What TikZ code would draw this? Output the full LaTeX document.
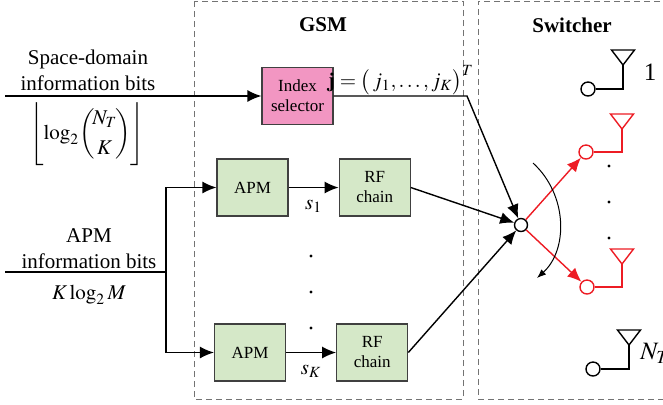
\documentclass[tikz,border=0pt]{standalone}
\usepackage{amsmath}
\usepackage{mathptmx}
\usepackage{fontspec}
\setmainfont{Liberation Serif}
\usepackage{tikz}
\usetikzlibrary{positioning}
\usetikzlibrary{arrows.meta}
\definecolor{idxpink}{RGB}{242,150,194}
\definecolor{apmgreen}{RGB}{213,232,200}
\definecolor{antred}{RGB}{237,28,36}

\begin{document}
\begin{tikzpicture}[x=0.5pt,y=-0.5pt]

\tikzset{blk/.style={
		draw=black!75, line width=0.6pt,
		minimum width=35.5pt, minimum height=28.5pt,
		inner sep=0pt, align=center,
		font=\fontsize{8.5}{10}\selectfont
	},
	grpbox/.style={draw=black!55, line width=0.5pt, dash pattern=on 3pt off 2pt},
	grptitle/.style={font=\fontsize{10.5}{12}\selectfont\bfseries},
	lbl/.style={align=center, inner sep=0pt, font=\fontsize{10.5}{13}\selectfont},
	wire/.style={line width=0.7pt},
	arr/.style={wire, -{Latex[length=7pt,width=6pt]}},
	swc/.style={circle, draw, line width=0.7pt, minimum size=6.5pt, inner sep=0pt, fill=white},
	antlbl/.style={inner sep=0pt, font=\fontsize{12.5}{14}\selectfont}
}
\useasboundingbox (0,0) rectangle (663,404);

%groups
\draw[grpbox] (194,1) rectangle (463,399);
\draw[grpbox] (690,1) -- (478,1) -- (478,399) -- (690,399);
\node[grptitle] (gsmttl) at (323,25) {GSM};
\node[grptitle] (swttl) at (572,25) {Switcher};

%blocks
\node[blk, fill=idxpink] (idx) at (297.5,96) {Index\\selector};
\node[blk, fill=apmgreen] (apmA) at (252.5,187.5) {APM};
\node[blk, fill=apmgreen, right=25pt of apmA] (rfA) {RF\\chain};
\node[blk, fill=apmgreen] (apmB) at (250,352.5) {APM};
\node[blk, fill=apmgreen, right=25pt of apmB] (rfB) {RF\\chain};
\node[swc] (pivot) at (521,225) {};

%space-domain bits
\coordinate (sdin) at (5,96);
\coordinate (jbend) at (467,96);
\draw[arr] (sdin) -- (idx.west);
\node[lbl] (sdlbl) at (88,70) {Space-domain\\information bits};
\node[lbl] (sdnum) at (87,134) {$\Biggl\lfloor \log_2 \biggl(\!\begin{matrix}N_T\\[2pt] K\end{matrix}\!\biggr) \Biggr\rfloor$};
\draw[arr] (idx.east) -- (jbend) -- (pivot);
\node[lbl] (jlbl) at (401,80) {$\mathbf{j}=\bigl(\,j_1,\ldots,j_K\bigr)^T$};

%apm bits
\coordinate (apmin) at (5,272);
\coordinate (split) at (166,272);
\draw[wire] (apmin) -- (split);
\draw[arr] (split) |- (apmA.west);
\draw[arr] (split) |- (apmB.west);
\node[lbl] (apmlbl) at (89,249) {APM\\information bits};
\node[lbl] (apmnum) at (89,295) {$K\log_2 M$};
\draw[arr] (apmA) -- node[below=6pt, lbl] {$s_1$} (rfA);
\draw[arr] (apmB) -- node[below=6pt, lbl] {$s_K$} (rfB);
\foreach \y in {256,292,328}
	\fill (311,\y) circle (0.8pt);
\draw[arr] (rfA.east) -- (pivot);
\draw[arr] (rfB.east) -- (pivot);

%antennas
\foreach \cx/\cy/\ax/\ty/\col/\nm in {588/89/623/50/black/a, 586/152/622/114/antred/b, 587/287/622/249/antred/c, 593/369/629/330/black/d}
{
	\node[swc, draw=\col, minimum size=7pt] (ant\nm) at (\cx,\cy) {};
	\draw[wire, \col] (ant\nm.east) -- (\ax,\cy) -- (\ax,\ty+15);
	\draw[wire, \col] (\ax-11.5,\ty) -- (\ax+11.5,\ty) -- (\ax,\ty+15) -- cycle;
}
\node[antlbl] (ant1lbl) at (650,72) {1};
\node[antlbl, anchor=west] (antNlbl) at (640,353) {$N_T$};
\foreach \y in {166,202,238}
	\fill (609,\y) circle (0.8pt);
\draw[arr, antred] (pivot) -- (antb);
\draw[arr, antred] (pivot) -- (antc);
\draw[line width=0.5pt, -{Latex[length=4.5pt,width=3.5pt]}] (533,163) .. controls (568,195) and (568,250) .. (537,278);

\end{tikzpicture}
\end{document}
